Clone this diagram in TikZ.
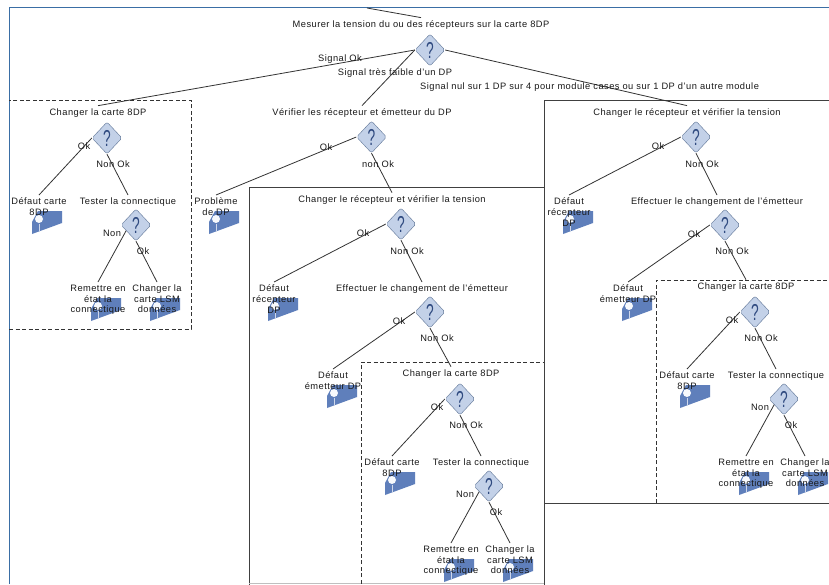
\documentclass[tikz,border=0pt]{standalone}
\usepackage{fontspec}
\setmainfont[LetterSpace=5]{Liberation Sans}
\usepackage{tikz}
\usetikzlibrary{calc,positioning,shapes.geometric}
\definecolor{cadre}{HTML}{3A6EA5}
\definecolor{bleu}{HTML}{5F7FBB}
\definecolor{losange}{HTML}{C3D1E8}
\definecolor{bordlos}{HTML}{5F7596}
\definecolor{point}{HTML}{2F4A80}
\begin{document}
\begin{tikzpicture}[x=1pt,y=-1pt,
    txt/.style={font=\fontsize{9.3}{10.6}\selectfont,inner sep=0pt,outer sep=3pt,align=center,text=black!90},
    etiq/.style={font=\fontsize{9.3}{10.6}\selectfont,inner sep=0pt,text=black!90},
    los/.style={diamond,draw=bordlos,fill=losange,rounded corners=2pt,minimum width=30pt,minimum height=32pt,inner sep=0pt,
      label={[font=\fontsize{23}{23}\selectfont,text=point,inner sep=0pt]center:\scalebox{.6}[1]{?}}},
    lien/.style={draw=black!80,line width=.8pt},
    cadreplein/.style={draw=black!75,line width=1pt},
    cadretir/.style={draw=black!80,line width=1pt,dash pattern=on 4pt off 2.5pt},
    icone/.pic={
      \fill[bleu] (0,0) -- (30,-11) -- (30,-23) -- (6,-23) -- (0,-12) -- cycle;
      \draw[white!70!bleu,line width=.8pt] (7,-2) -- (7,-10);
      \fill[white!95!bleu] (7,-15) circle (4pt);
    },
    carte/.pic={
      \pic at (-66,121) {icone};
      \pic at (-7,208) {icone};
      \pic at (52,208) {icone};
      \node[txt] (t) at (0,0) {Changer la carte 8DP};
      \node[los] (d1) at (9,25) {};
      \node[txt,anchor=north] (t1) at (-59,82) {Défaut carte\\8DP};
      \node[txt,anchor=north] (t2) at (30,82) {Tester la connectique};
      \node[los] (d2) at (38,112) {};
      \node[txt,anchor=north] (t3) at (0,169) {Remettre en\\état la\\connectique};
      \node[txt,anchor=north] (t4) at (59,169) {Changer la\\carte LSM\\données};
      \draw[lien] (d1.west) -- (t1.north);
      \draw[lien] (d1.south) -- (t2.north);
      \draw[lien] (d2.210) -- (t3.north);
      \draw[lien] (d2.south) -- (t4.north);
      \node[etiq] (e1) at (-14,33) {Ok};
      \node[etiq] (e2) at (15,51) {Non Ok};
      \node[etiq] (e3) at (14,120) {Non};
      \node[etiq] (e4) at (45,138) {Ok};
    },
    recepteur/.pic={
      \pic at (-124,121) {icone};
      \pic at (-65,208) {icone};
      \node[txt] (t) at (0,0) {Changer le récepteur et vérifier la tension};
      \node[los] (d1) at (9,24) {};
      \node[txt,anchor=north] (t1) at (-118,82) {Défaut\\récepteur\\DP};
      \node[txt,anchor=north] (t2) at (30,82) {Effectuer le changement de l'émetteur};
      \node[los] (d2) at (38,112) {};
      \node[txt,anchor=north] (t3) at (-59,169) {Défaut\\émetteur DP};
      \draw[lien] (d1.west) -- (t1.north);
      \draw[lien] (d1.south) -- (t2.north);
      \draw[lien] (d2.west) -- (t3.north);
      \node[etiq] (e1) at (-29,33) {Ok};
      \node[etiq] (e2) at (15,51) {Non Ok};
      \node[etiq] (e3) at (7,121) {Ok};
      \node[etiq] (e4) at (45,138) {Non Ok};
    }]
  \useasboundingbox (0,0) rectangle (829,584);
  \fill[white] (0,0) rectangle (829,584);

  % cadre de la fenetre
  \draw[cadre,line width=.8pt] (9,584) -- (9,7) -- (829,7);

  % cadres
  \draw[cadretir] (9,329) -- (191,329) -- (191,100) -- (9,100);
  \draw[cadreplein] (249,590) -- (249,187) -- (544,187);
  \draw[cadreplein] (544,590) -- (544,100) -- (835,100);
  \draw[cadreplein] (544,503) -- (835,503);
  \draw[black!25,line width=.6pt] (249,583.5) -- (544,583.5);
  \draw[cadretir] (361,590) -- (361,362) -- (544,362);
  \draw[cadretir] (656,503) -- (656,280) -- (835,280);

  % racine
  \coordinate (haut) at (367,8);
  \node[txt] (r0) at (421,25) {Mesurer la tension du ou des récepteurs sur la carte 8DP};
  \node[los] (r1) at (430,50) {};
  \node[txt] (v0) at (362,113) {Vérifier les récepteur et émetteur du DP};
  \node[los] (v1) at (371.5,137) {};
  \pic at (209,234) {icone};
  \node[txt,anchor=north] (v2) at (216,195) {Problème\\de DP};

  \pic (c1) at (98,113) {carte};
  \pic (c2) at (451,374) {carte};
  \pic (c3) at (746,287) {carte};
  \pic (m1) at (392,200) {recepteur};
  \pic (m2) at (687,113) {recepteur};

  \draw[lien] (haut) -- (r0.north);
  \draw[lien] (r1.west) -- (c1t.north);
  \draw[lien] (r1.west) -- (v0.north);
  \draw[lien] (r1.east) -- (m2t.north);
  \draw[lien] (v1.west) -- (v2.north);
  \draw[lien] (v1.south) -- (m1t.north);
  \draw[lien] (m1d2.south) -- (c2t.north);
  \draw[lien] (m2d2.south) -- (c3t.north);

  \node[etiq] (s1) at (340,59) {Signal Ok};
  \node[etiq] (s2) at (395,73) {Signal très faible d'un DP};
  \node[etiq,anchor=west] (s3) at (420,87) {Signal nul sur 1 DP sur 4 pour module cases ou sur 1 DP d'un autre module};
  \node[etiq] (s4) at (326,147) {Ok};
  \node[etiq] (s5) at (378,164) {non Ok};
\end{tikzpicture}
\end{document}
